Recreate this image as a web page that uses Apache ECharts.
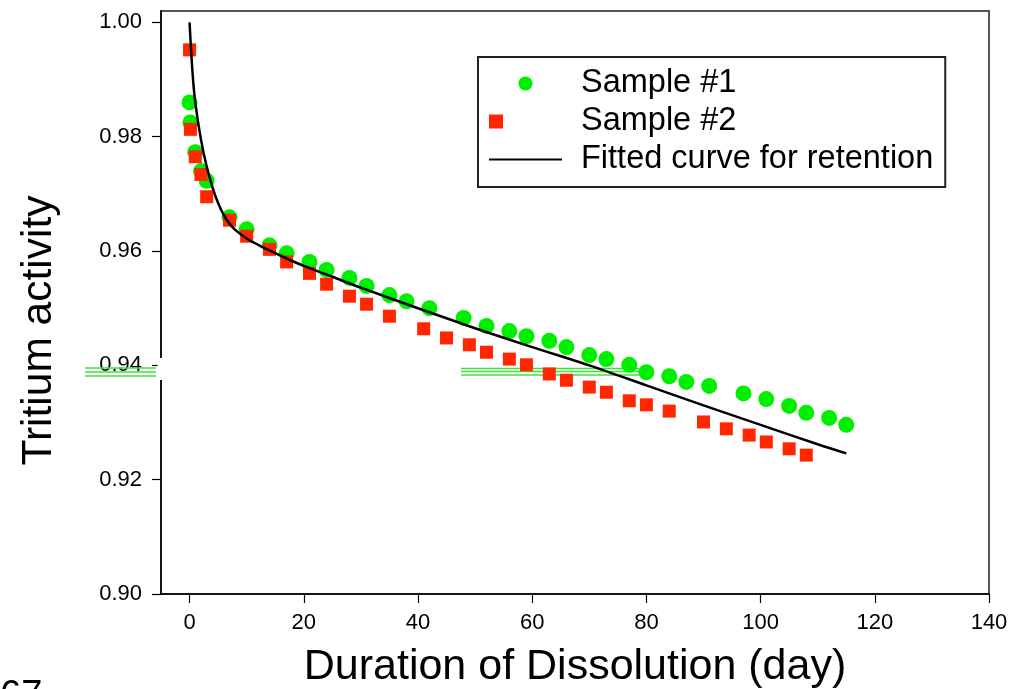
<!DOCTYPE html>
<html>
<head>
<meta charset="utf-8">
<script src="https://cdn.jsdelivr.net/npm/echarts@6/dist/echarts.min.js"></script>
<style>
html,body{margin:0;padding:0;background:#fff;}
#chart{width:1021px;height:689px;}
</style>
</head>
<body>
<div id="chart"></div>
<script>
// ---- data ----
const days1 = [0,0.15,1,2,3,7,10,14,17,21,24,28,31,35,38,42,48,52,56,59,63,66,70,73,77,80,84,87,91,97,101,105,108,112,115];
const sample1 = [0.9860,0.9825,0.9773,0.9740,0.9723,0.9659,0.9638,0.9610,0.9596,0.9581,0.9567,0.9553,0.9539,0.9523,0.9512,0.9500,0.9483,0.9469,0.9460,0.9451,0.9443,0.9432,0.9418,0.9411,0.9401,0.9388,0.9381,0.9371,0.9364,0.9351,0.9341,0.9329,0.9317,0.9308,0.9296];

const days2 = [0,0.15,1,2,3,7,10,14,17,21,24,28,31,35,41,45,49,52,56,59,63,66,70,73,77,80,84,90,94,98,101,105,108];
const sample2 = [0.9952,0.9813,0.9765,0.9734,0.9695,0.9654,0.9626,0.9603,0.9581,0.9561,0.9542,0.9521,0.9507,0.9486,0.9464,0.9448,0.9436,0.9423,0.9411,0.9401,0.9385,0.9374,0.9362,0.9353,0.9338,0.9331,0.9320,0.9301,0.9289,0.9278,0.9266,0.9254,0.9243];

const fitDays = [0,0.5,1,2,3,4,5,6,7,8,10,12,14,17,20,25,30,40,50,60,70,80,90,100,110,115];
const fitVals = [1.000,0.9915,0.9860,0.9795,0.9748,0.9712,0.9684,0.9663,0.9648,0.9637,0.9622,0.9611,0.9601,0.9587,0.9574,0.9555,0.9536,0.9500,0.9465,0.9432,0.9400,0.9365,0.9330,0.9296,0.9262,0.9246];

const xTicks = [0,20,40,60,80,100,120,140];
const yTicks = [0.90,0.92,0.94,0.96,0.98,1.00];
const seriesNames = ['Sample #1','Sample #2','Fitted curve for retention'];
const xTitle = 'Duration of Dissolution (day)';
const yTitle = 'Tritium activity';
const pageNumber = '67';

const pairs = (xs, ys) => xs.map((x, i) => [x, ys[i]]);
const FONT = '"Liberation Sans", Arial, sans-serif';

const chart = echarts.init(document.getElementById('chart'), null, {renderer: 'canvas'});
chart.setOption({
  animation: false,
  backgroundColor: '#fff',
  textStyle: {fontFamily: FONT, color: '#000'},
  grid: {
    left: 161, top: 11, right: 32, bottom: 95,
    containLabel: false, outerBoundsMode: 'none',
    show: true, borderColor: '#555', borderWidth: 2, backgroundColor: 'transparent'
  },
  legend: {
    orient: 'vertical',
    left: 478, top: 57,
    padding: [10, 12, 11, 10],
    itemGap: 5,
    itemWidth: 73, itemHeight: 14,
    borderColor: '#222', borderWidth: 2,
    backgroundColor: '#fff',
    textStyle: {fontFamily: FONT, fontSize: 32.5, color: '#000', padding: [0, 0, 0, 14]},
    data: [
      {name: seriesNames[0]},
      {name: seriesNames[1]},
      {name: seriesNames[2], itemStyle: {opacity: 0}, lineStyle: {width: 2}}
    ]
  },
  xAxis: {
    type: 'value', min: -5, max: 140,
    name: xTitle, nameLocation: 'middle', nameGap: 52,
    nameTextStyle: {fontFamily: FONT, fontSize: 43, color: '#000'},
    axisLine: {show: true, onZero: false, lineStyle: {color: '#000', width: 1.5}},
    axisTick: {show: true, inside: false, length: 9, customValues: xTicks, lineStyle: {color: '#000', width: 1.2}},
    axisLabel: {customValues: xTicks, fontFamily: FONT, fontSize: 22, color: '#000', margin: 18},
    splitLine: {show: false}
  },
  yAxis: {
    type: 'value', min: 0.90, max: 1.002,
    name: yTitle, nameLocation: 'middle', nameGap: 100, nameRotate: 90,
    nameTextStyle: {fontFamily: FONT, fontSize: 42.5, color: '#000', padding: [0, 56, 0, 0]},
    axisLine: {show: true, onZero: false, lineStyle: {color: '#000', width: 1.5}},
    axisTick: {show: true, inside: false, length: 9, customValues: yTicks, lineStyle: {color: '#000', width: 1.2}},
    axisLabel: {customValues: yTicks, fontFamily: FONT, fontSize: 22, color: '#000', margin: 19,
      formatter: v => v.toFixed(2)},
    splitLine: {show: false}
  },
  graphic: [
    {type: 'rect', z: 50, shape: {x: 157.5, y: 358, width: 7, height: 22}, style: {fill: '#fff'}},
    {type: 'line', z: 1, shape: {x1: 85, y1: 368, x2: 156, y2: 368}, style: {stroke: '#3ee03e', lineWidth: 1.3}},
    {type: 'line', z: 1, shape: {x1: 85, y1: 372, x2: 156, y2: 372}, style: {stroke: '#3ee03e', lineWidth: 1.3}},
    {type: 'line', z: 1, shape: {x1: 85, y1: 376, x2: 156, y2: 376}, style: {stroke: '#3ee03e', lineWidth: 1.3}},
    {type: 'line', z: 1, shape: {x1: 461, y1: 368.5, x2: 639, y2: 368.5}, style: {stroke: '#3ee03e', lineWidth: 1.3}},
    {type: 'line', z: 1, shape: {x1: 461, y1: 371.5, x2: 639, y2: 371.5}, style: {stroke: '#3ee03e', lineWidth: 1.3}},
    {type: 'line', z: 1, shape: {x1: 461, y1: 375, x2: 639, y2: 375}, style: {stroke: '#3ee03e', lineWidth: 1.3}},
    {type: 'text', z: 50, left: 0, top: 678, style: {text: pageNumber, font: '38px ' + FONT, fill: '#000'}}
  ],
  series: [
    {
      name: seriesNames[0], type: 'scatter', symbol: 'circle', symbolSize: 16,
      itemStyle: {color: '#00ee00', opacity: 1},
      data: pairs(days1, sample1), z: 2
    },
    {
      name: seriesNames[1], type: 'scatter', symbol: 'square', symbolSize: 13,
      itemStyle: {color: '#ff2600', opacity: 1},
      data: pairs(days2, sample2), z: 3
    },
    {
      name: seriesNames[2], type: 'line', showSymbol: false, symbol: 'none', smooth: 0.3,
      lineStyle: {color: '#000', width: 2.5},
      itemStyle: {color: '#000'},
      data: pairs(fitDays, fitVals), z: 4
    }
  ]
});
</script>
</body>
</html>
